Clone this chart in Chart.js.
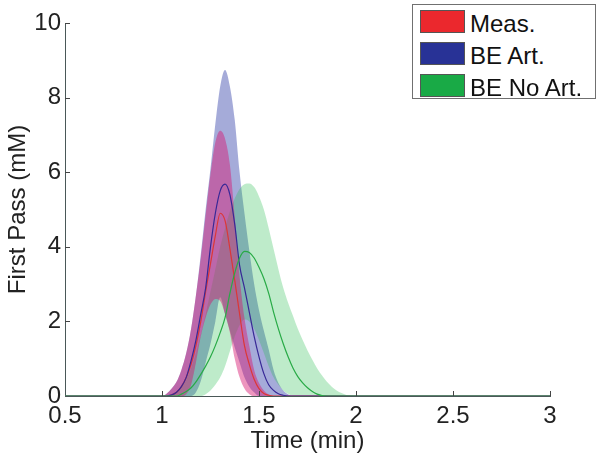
<!DOCTYPE html>
<html><head><meta charset="utf-8">
<script src="https://cdn.jsdelivr.net/npm/chart.js@4.4.0/dist/chart.umd.min.js"></script>
<style>
html,body{margin:0;padding:0;background:#fff;}
#wrap{position:relative;width:600px;height:457px;}
#legend{position:absolute;left:412px;top:4px;width:184px;height:95px;border:1px solid #707070;background:#fff;box-sizing:border-box;font-family:'Liberation Sans',Arial,sans-serif;font-size:24px;color:#111;}
.item{position:absolute;left:7px;height:23px;width:170px;}
.sw{position:absolute;left:0;top:0;width:45px;height:23px;box-sizing:border-box;border:1px solid #555;}
.lb{position:absolute;left:50px;top:-1px;white-space:nowrap;line-height:29px;}
</style></head>
<body>
<div id="wrap"><canvas id="c" width="600" height="457"></canvas><div id="legend"></div></div>
<script>
const times = [0.5, 1.000, 1.025, 1.050, 1.075, 1.100, 1.125, 1.150, 1.175, 1.200, 1.225, 1.250, 1.275, 1.300, 1.325, 1.350, 1.375, 1.400, 1.425, 1.450, 1.475, 1.500, 1.525, 1.550, 1.575, 1.600, 1.625, 1.650, 1.675, 1.700, 1.725, 1.750, 1.775, 1.800, 1.825, 1.850, 1.875, 1.900, 1.925, 1.950, 1.975, 2.000, 3.0];

const measUpper = [0, 0, 0.07, 0.2, 0.38, 0.7, 1.15, 1.8, 2.7, 3.7, 4.85, 5.95, 6.8, 7.11, 6.9, 6.2, 4.8, 3.2, 2.1, 1.35, 0.7, 0.35, 0.15, 0.04, 0, 0, 0, 0, 0, 0, 0, 0, 0, 0, 0, 0, 0, 0, 0, 0, 0, 0, 0];
const measMean = [0, 0, 0, 0.03, 0.1, 0.25, 0.5, 0.85, 1.35, 2.0, 2.8, 3.55, 4.3, 4.9, 4.7, 3.95, 3.1, 2.2, 1.35, 0.85, 0.45, 0.2, 0.07, 0.02, 0, 0, 0, 0, 0, 0, 0, 0, 0, 0, 0, 0, 0, 0, 0, 0, 0, 0, 0];
const measLower = [0, 0, 0, 0, 0, 0, 0.05, 0.3, 0.9, 1.6, 2.1, 2.45, 2.6, 2.55, 2.2, 1.7, 1.0, 0.5, 0.2, 0.05, 0, 0, 0, 0, 0, 0, 0, 0, 0, 0, 0, 0, 0, 0, 0, 0, 0, 0, 0, 0, 0, 0, 0];

const beArtUpper = [0, 0, 0.07, 0.2, 0.38, 0.7, 1.15, 1.8, 2.7, 3.8, 5.0, 6.1, 7.3, 8.3, 8.74, 8.3, 7.4, 6.0, 4.9, 3.9, 3.0, 2.3, 1.75, 1.25, 0.7, 0.35, 0.15, 0.05, 0, 0, 0, 0, 0, 0, 0, 0, 0, 0, 0, 0, 0, 0, 0];
const beArtMean = [0, 0, 0, 0.03, 0.1, 0.25, 0.5, 0.95, 1.5, 2.2, 2.9, 4.0, 4.9, 5.5, 5.68, 5.4, 4.6, 3.5, 2.9, 2.25, 1.6, 1.05, 0.6, 0.3, 0.15, 0.06, 0.02, 0, 0, 0, 0, 0, 0, 0, 0, 0, 0, 0, 0, 0, 0, 0, 0];
const beArtLower = [0, 0, 0, 0, 0, 0, 0, 0, 0.1, 0.4, 0.9, 1.4, 2.0, 2.65, 2.2, 1.75, 1.3, 0.9, 0.5, 0.25, 0.1, 0, 0, 0, 0, 0, 0, 0, 0, 0, 0, 0, 0, 0, 0, 0, 0, 0, 0, 0, 0, 0, 0];

const beNoArtUpper = [0, 0, 0, 0.05, 0.12, 0.25, 0.45, 0.75, 1.15, 1.65, 2.2, 2.8, 3.4, 4.0, 4.5, 4.95, 5.3, 5.55, 5.68, 5.7, 5.6, 5.35, 5.0, 4.5, 3.95, 3.4, 2.9, 2.5, 2.15, 1.8, 1.5, 1.22, 0.97, 0.74, 0.55, 0.38, 0.25, 0.15, 0.08, 0.03, 0.01, 0, 0];
const beNoArtMean = [0, 0, 0, 0, 0, 0.05, 0.12, 0.22, 0.38, 0.58, 0.8, 1.05, 1.35, 1.7, 2.1, 2.75, 3.3, 3.7, 3.88, 3.85, 3.7, 3.45, 3.15, 2.75, 2.25, 1.8, 1.4, 1.05, 0.75, 0.52, 0.35, 0.22, 0.12, 0.05, 0.01, 0, 0, 0, 0, 0, 0, 0, 0];
const beNoArtLower = [0, 0, 0, 0, 0, 0, 0, 0, 0, 0, 0.05, 0.15, 0.3, 0.5, 0.8, 1.2, 1.6, 1.9, 2.05, 2.0, 1.8, 1.5, 1.15, 0.8, 0.5, 0.3, 0.15, 0.06, 0, 0, 0, 0, 0, 0, 0, 0, 0, 0, 0, 0, 0, 0, 0];

const seriesNames = ['Meas.', 'BE Art.', 'BE No Art.'];
const xTicks = [0.5, 1, 1.5, 2, 2.5, 3];
const yTicks = [0, 2, 4, 6, 8, 10];
const xTitle = 'Time (min)';
const yTitle = 'First Pass (mM)';

const FONT = "'Liberation Sans', Arial, sans-serif";
const style = [
  {band: 'rgba(215,20,110,0.45)', line: 'rgb(220,55,55)', swatch: 'rgb(235,40,45)', order: 4},
  {band: 'rgba(40,55,165,0.42)', line: 'rgb(55,40,150)', swatch: 'rgb(40,50,150)', order: 6},
  {band: 'rgba(40,190,80,0.30)', line: 'rgb(40,170,70)', swatch: 'rgb(25,170,70)', order: 5}
];
const groups = [
  {upper: measUpper, mean: measMean, lower: measLower},
  {upper: beArtUpper, mean: beArtMean, lower: beArtLower},
  {upper: beNoArtUpper, mean: beNoArtMean, lower: beNoArtLower}
];
function pts(vals) { return times.map((t, i) => ({x: t, y: vals[i]})); }

const datasets = [];
groups.forEach((g, k) => {
  const idx = datasets.length;
  datasets.push({label: seriesNames[k] + ' upper', data: pts(g.upper), borderColor: 'transparent', borderWidth: 0,
    backgroundColor: style[k].band, fill: {target: idx + 1}, order: style[k].order});
  datasets.push({label: seriesNames[k] + ' lower', data: pts(g.lower), borderColor: 'transparent', borderWidth: 0,
    fill: false, order: style[k].order});
});
groups.forEach((g, k) => {
  datasets.push({label: seriesNames[k], data: pts(g.mean), borderColor: style[k].line, borderWidth: 1.2,
    fill: false, order: 3 - k});
});

const innerTicks = {
  id: 'innerTicks',
  afterDatasetsDraw(chart) {
    const {ctx, chartArea: a, scales: {x, y}} = chart;
    ctx.save();
    ctx.strokeStyle = '#444';
    ctx.lineWidth = 1;
    ctx.beginPath();
    xTicks.forEach(v => { if (v === xTicks[0]) return; const p = Math.round(x.getPixelForValue(v)) + 0.5; ctx.moveTo(p, a.bottom); ctx.lineTo(p, a.bottom - 5); });
    yTicks.forEach(v => { if (v === yTicks[0]) return; const p = Math.round(y.getPixelForValue(v)) + 0.5; ctx.moveTo(a.left, p); ctx.lineTo(a.left + 5, p); });
    ctx.stroke();
    ctx.restore();
  }
};

new Chart(document.getElementById('c'), {
  type: 'line',
  data: {datasets},
  plugins: [innerTicks],
  options: {
    responsive: false, animation: false, devicePixelRatio: 1,
    layout: {padding: {left: 0, right: 50, top: 23, bottom: 0}},
    plugins: {legend: {display: false}, tooltip: {enabled: false}},
    elements: {point: {radius: 0}, line: {cubicInterpolationMode: 'monotone'}},
    scales: {
      x: {
        type: 'linear', min: 0.5, max: 3,
        afterBuildTicks: s => { s.ticks = xTicks.map(v => ({value: v})); },
        afterFit: s => { s.height = 61; },
        grid: {display: false, drawTicks: false},
        border: {display: true, color: '#4a5858', width: 1},
        ticks: {font: {family: FONT, size: 24}, color: '#222', padding: 6, maxRotation: 0, autoSkip: false, callback: v => String(v)},
        title: {display: true, text: xTitle, font: {family: FONT, size: 24}, color: '#222', padding: {top: 0, bottom: 1}}
      },
      y: {
        type: 'linear', min: 0, max: 10,
        afterBuildTicks: s => { s.ticks = yTicks.map(v => ({value: v})); },
        afterFit: s => { s.width = 65; },
        grid: {display: false, drawTicks: false},
        border: {display: true, color: '#4a5858', width: 1},
        ticks: {font: {family: FONT, size: 24}, color: '#222', padding: 4, autoSkip: false, callback: v => String(v)},
        title: {display: true, text: yTitle, font: {family: FONT, size: 24}, color: '#222', padding: {top: 4, bottom: 0}}
      }
    }
  }
});

const legend = document.getElementById('legend');
seriesNames.forEach((n, k) => {
  const it = document.createElement('div');
  it.className = 'item';
  it.style.top = (5 + k * 32) + 'px';
  const sw = document.createElement('div'); sw.className = 'sw'; sw.style.background = style[k].swatch;
  const lb = document.createElement('div'); lb.className = 'lb'; lb.textContent = n;
  it.appendChild(sw); it.appendChild(lb); legend.appendChild(it);
});
</script>
</body></html>
